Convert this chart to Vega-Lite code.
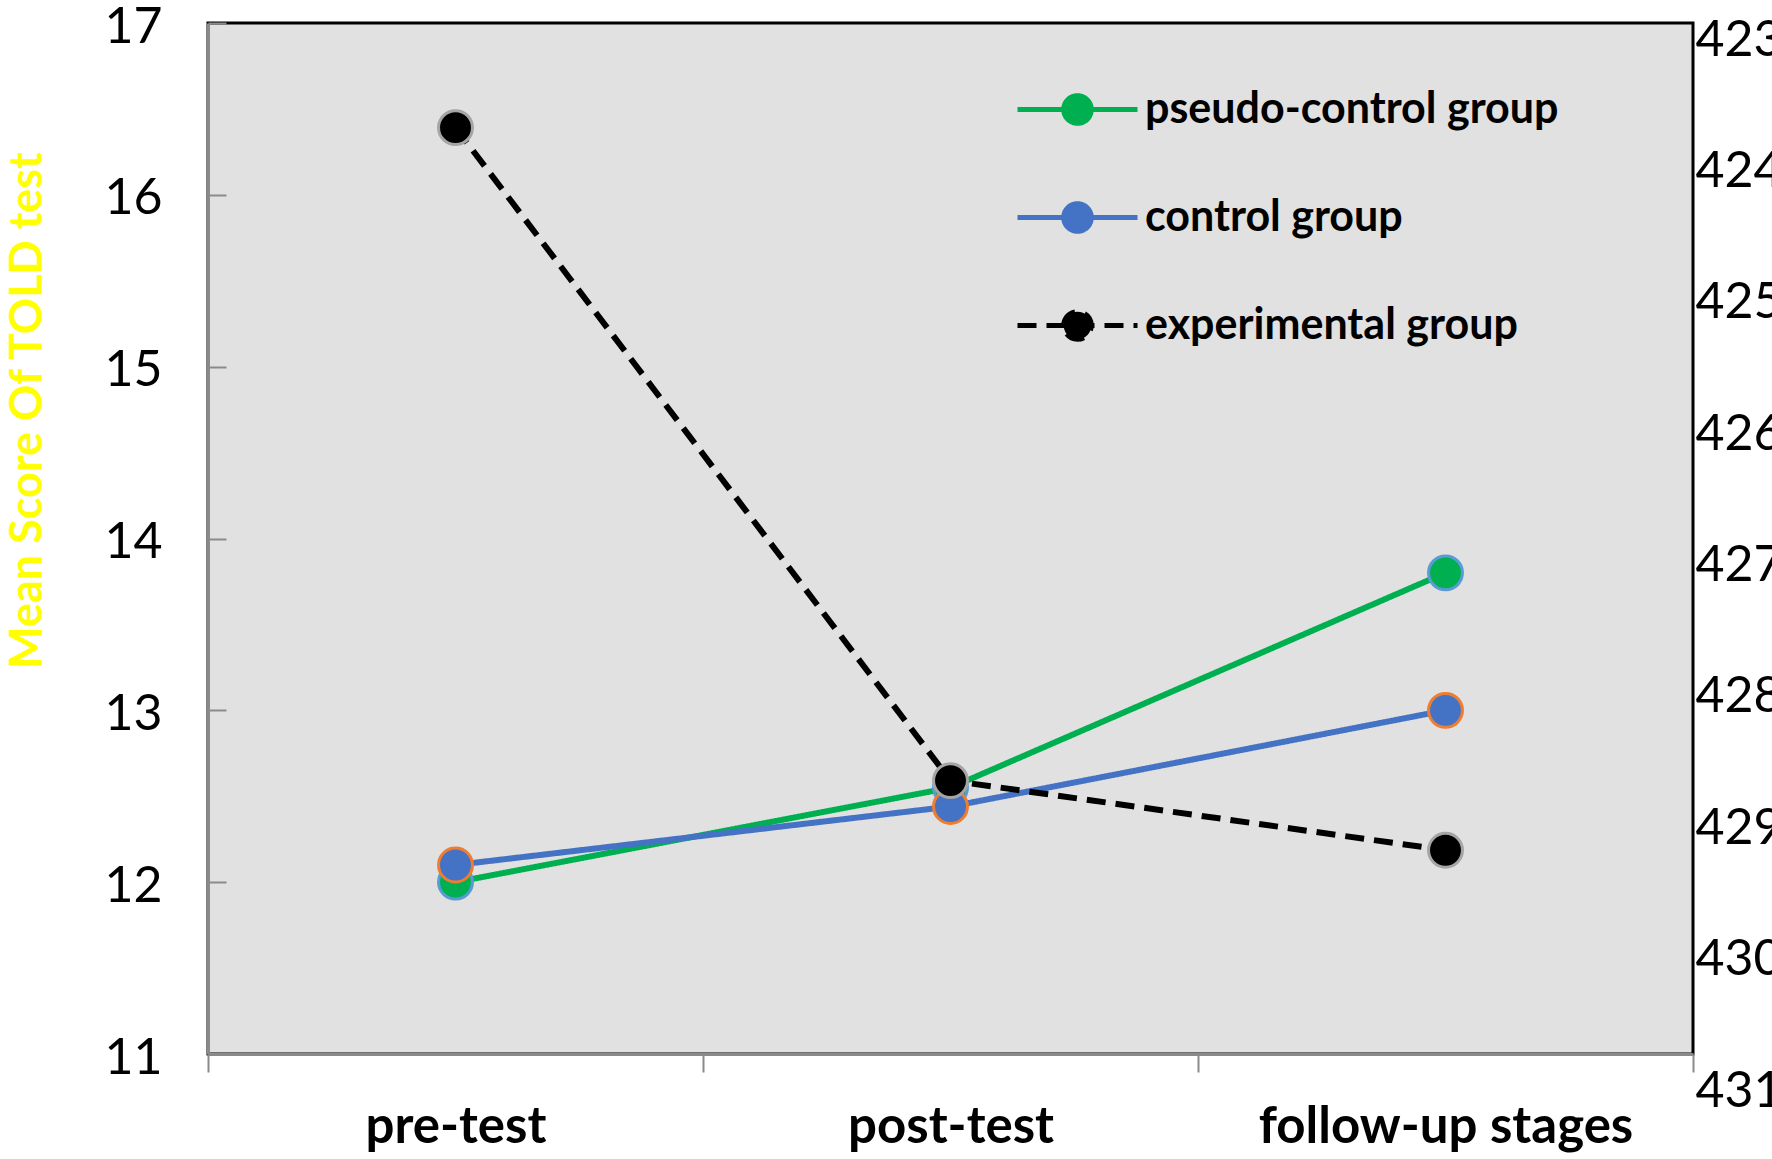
{
  "$schema": "https://vega.github.io/schema/vega-lite/v6.json",
  "autosize": {"type": "none"},
  "padding": {"left": 208, "top": 23, "right": 79, "bottom": 105},
  "width": 1485,
  "height": 1031,
  "background": "white",
  "config": {
    "view": {"fill": "#E1E1E1", "stroke": "#000000", "strokeWidth": 3},
    "font": "Lato"
  },
  "data": {
    "values": [
      {"stage": "pre-test", "group": "pseudo-control group", "score": 12.0},
      {"stage": "post-test", "group": "pseudo-control group", "score": 12.55},
      {"stage": "follow-up stages", "group": "pseudo-control group", "score": 13.8},
      {"stage": "pre-test", "group": "control group", "score": 12.1},
      {"stage": "post-test", "group": "control group", "score": 12.44},
      {"stage": "follow-up stages", "group": "control group", "score": 13.0},
      {"stage": "pre-test", "group": "experimental group", "score": 423.69},
      {"stage": "post-test", "group": "experimental group", "score": 428.66},
      {"stage": "follow-up stages", "group": "experimental group", "score": 429.19}
    ]
  },
  "encoding": {
    "x": {
      "field": "stage",
      "type": "nominal",
      "sort": ["pre-test", "post-test", "follow-up stages"],
      "scale": {"type": "band", "paddingInner": 0, "paddingOuter": 0},
      "axis": {
        "title": null,
        "labelAngle": 0,
        "tickBand": "extent",
        "domainColor": "#8A8A8A",
        "domainWidth": 3,
        "tickColor": "#8A8A8A",
        "tickWidth": 2,
        "tickSize": 18,
        "labelPadding": 30,
        "labelLimit": 0,
        "labelFont": "Lato",
        "labelFontWeight": "bold",
        "labelFontSize": 51,
        "labelColor": "#000000",
        "grid": false
      }
    },
    "color": {
      "field": "group",
      "type": "nominal",
      "scale": {
        "domain": ["pseudo-control group", "control group", "experimental group"],
        "range": ["#00B050", "#4472C4", "#000000"]
      },
      "legend": {
        "title": null,
        "orient": "none",
        "legendX": 807,
        "legendY": 24,
        "padding": 0,
        "symbolType": "M-1,0H1M-0.23,0A0.23,0.23,0,1,1,0.23,0A0.23,0.23,0,1,1,-0.23,0Z",
        "symbolSize": 14400,
        "symbolStrokeWidth": 5,
        "labelFont": "Lato",
        "labelFontWeight": "bold",
        "labelFontSize": 43,
        "labelColor": "#000000",
        "labelLimit": 0,
        "labelOffset": 5,
        "rowPadding": 21,
        "encode": {
          "symbols": {"update": {"fill": {"scale": "color", "field": "value"}, "opacity": {"value": 1}}}
        }
      }
    }
  },
  "layer": [
    {
      "transform": [{"filter": "datum.group !== 'experimental group'"}],
      "encoding": {
        "y": {
          "field": "score",
          "type": "quantitative",
          "scale": {"domain": [11, 17], "zero": false, "nice": false},
          "axis": {
            "orient": "left",
            "values": [11, 12, 13, 14, 15, 16, 17],
            "title": "Mean Score Of TOLD test",
            "titleColor": "#FFFF00",
            "titleFont": "Lato",
            "titleFontWeight": "bold",
            "titleFontSize": 45,
            "titleX": -181,
            "titleY": 387,
            "titleAlign": "center",
            "titleBaseline": "middle",
            "titleAngle": -90,
            "domainColor": "#8A8A8A",
            "domainWidth": 3,
            "ticks": false,
            "tickSize": 0,
            "grid": true,
            "gridColor": "#8A8A8A",
            "gridWidth": 2,
            "gridDash": [18, 4000],
            "labelPadding": 46,
            "labelOffset": 4,
            "labelFont": "Lato",
            "labelFontSize": 50,
            "labelColor": "#000000"
          }
        }
      },
      "layer": [
        {
          "mark": {"type": "line", "strokeWidth": 6},
          "encoding": {
            "strokeDash": {
              "field": "group",
              "type": "nominal",
              "scale": {
                "domain": ["pseudo-control group", "control group", "experimental group"],
                "range": [[1, 0], [1, 0], [19, 10]]
              },
              "legend": null
            }
          }
        },
        {
          "mark": {"type": "point", "filled": true, "shape": "circle", "size": 1150, "strokeWidth": 3, "opacity": 1},
          "encoding": {
            "stroke": {
              "condition": [
                {"test": "datum.group === 'control group'", "value": "#ED7D31"},
                {"test": "datum.group === 'pseudo-control group'", "value": "#5B9BD5"}
              ],
              "value": "#A5A5A5"
            }
          }
        }
      ]
    },
    {
      "transform": [{"filter": "datum.group === 'experimental group'"}],
      "encoding": {
        "y": {
          "field": "score",
          "type": "quantitative",
          "scale": {"domain": [423, 431], "range": [14, 1065], "zero": false, "nice": false},
          "axis": {
            "orient": "right",
            "values": [423, 424, 425, 426, 427, 428, 429, 430, 431],
            "title": null,
            "domain": false,
            "ticks": false,
            "labelPadding": 2,
            "labelOffset": 3,
            "labelFont": "Lato",
            "labelFontSize": 50,
            "labelColor": "#000000",
            "grid": false
          }
        }
      },
      "layer": [
        {
          "mark": {"type": "line", "strokeWidth": 6},
          "encoding": {
            "strokeDash": {
              "field": "group",
              "type": "nominal",
              "scale": {
                "domain": ["pseudo-control group", "control group", "experimental group"],
                "range": [[1, 0], [1, 0], [19, 10]]
              },
              "legend": null
            }
          }
        },
        {
          "mark": {"type": "point", "filled": true, "shape": "circle", "size": 1150, "strokeWidth": 3, "opacity": 1, "stroke": "#A5A5A5"}
        }
      ]
    }
  ],
  "resolve": {"scale": {"y": "independent"}}
}
